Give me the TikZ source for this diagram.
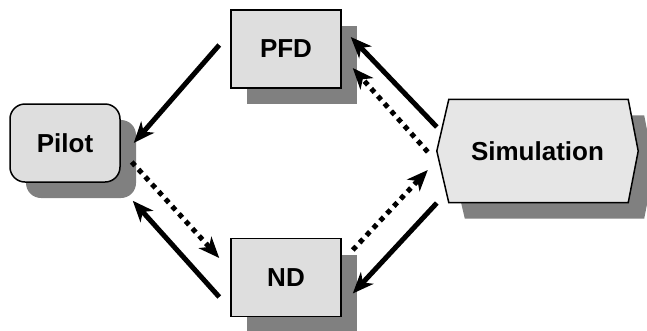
\documentclass[tikz,border=0pt]{standalone}
\usepackage{fontspec}
\setmainfont{Liberation Sans}
\usetikzlibrary{arrows.meta,calc,shadows}
\definecolor{boxfill}{HTML}{DEDEDE}
\definecolor{simfill}{HTML}{E6E6E6}
\definecolor{shadowgray}{HTML}{808080}
\tikzset{
  lbl/.style={font=\fontsize{26}{30}\selectfont\bfseries},
  box/.style={lbl, draw=black, line width=1.5pt, fill=boxfill, minimum width=110pt, minimum height=78pt,
    inner sep=0pt,
    drop shadow={shadow xshift=16pt, shadow yshift=-16pt, fill=shadowgray, opacity=1}},
  link/.style={line width=5pt, -{Stealth[length=21pt, width=17pt, inset=6pt]}},
  dotlink/.style={link, dash pattern=on 5pt off 5pt}
}
\begin{document}
\begin{tikzpicture}[x=1pt,y=-1pt]
\useasboundingbox (0,0) rectangle (647,330);
% nodes
\node[box] (pfd) at (286,49) {PFD};
\node[box, rounded corners=15pt] (pilot) at (65,143) {Pilot};
\node[box] (nd) at (286,277.5) {ND};
\node[minimum width=201pt, minimum height=103pt, inner sep=0pt] (sim) at (537.5,151) {};
\coordinate (s1) at ($(sim.north west)+(12,0)$);
\coordinate (s2) at ($(sim.north east)+(-10,0)$);
\coordinate (s3) at (sim.east);
\coordinate (s4) at ($(sim.south east)+(-10,0)$);
\coordinate (s5) at ($(sim.south west)+(12,0)$);
\coordinate (s6) at (sim.west);
\fill[shadowgray]
  ($(s1)+(16,16)$) -- ($(s2)+(16,16)$) -- ($(s3)+(16,16)$)
  -- ($(s4)+(16,16)$) -- ($(s5)+(16,16)$) -- ($(s6)+(16,16)$) -- cycle;
\filldraw[fill=simfill, draw=black, line width=1.5pt]
  (s1) -- (s2) -- (s3) -- (s4) -- (s5) -- (s6) -- cycle;
\node[lbl] (simtext) at (sim.center) {Simulation};
% connectors
\draw[link] ($(pfd.west)+(-11,-4)$) -- ($(pilot.east)+(13,0)$);
\draw[dotlink] ($(pilot.east)+(11,19)$) -- ($(nd.west)+(-11,-19.5)$);
\draw[link] ($(nd.west)+(-11,19.5)$) -- ($(pilot.south east)+(12,18)$);
\draw[link] ($(sim.west)+(0,-24)$) -- ($(pfd.east)+(9,-12)$);
\draw[dotlink] ($(sim.west)+(-9,1)$) -- ($(pfd.east)+(11,19)$);
\draw[dotlink] ($(nd.east)+(11,-27.5)$) -- ($(sim.west)+(-9,19)$);
\draw[link] ($(sim.west)+(0,52)$) -- ($(nd.east)+(11,16)$);
\end{tikzpicture}
\end{document}
